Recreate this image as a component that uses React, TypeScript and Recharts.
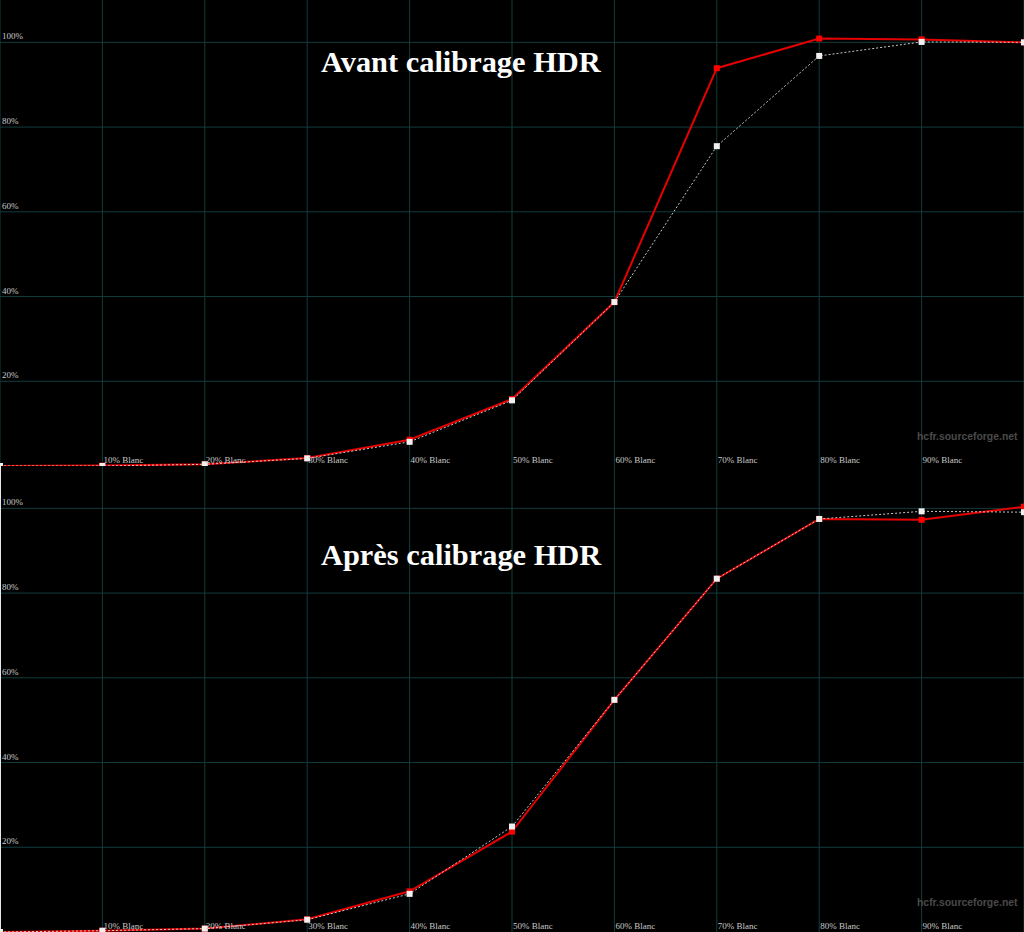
import { LineChart, Line, XAxis, YAxis, CartesianGrid } from "recharts";

// niveaux de gris mesurés (% Blanc)
const niveaux = [0, 10, 20, 30, 40, 50, 60, 70, 80, 90, 100];

// luminance relative (%)
const avantMesure = [0, 0.1, 0.4, 1.9, 6.2, 15.8, 38.7, 93.9, 100.9, 100.7, 100];
const avantCible = [0, 0, 0.4, 1.8, 5.7, 15.5, 38.7, 75.5, 96.8, 100.1, 100];
const apresMesure = [0, 0.3, 0.8, 3.0, 9.6, 23.7, 54.8, 83.4, 97.5, 97.3, 100.4];
const apresCible = [0, 0.3, 0.8, 2.9, 9.0, 24.9, 54.8, 83.4, 97.5, 99.3, 99.1];

const xTicks = [10, 20, 30, 40, 50, 60, 70, 80, 90];
const xGrid = [0, 10, 20, 30, 40, 50, 60, 70, 80, 90, 100];
const yTicks = [20, 40, 60, 80, 100];

const W = 1024;
const H = 466;
const GRID = "#123c3c";
const LABEL = "#c8c8c8";
const SERIF = "'Liberation Serif', 'Times New Roman', serif";

const build = (mesure: number[], cible: number[]) =>
  niveaux.map((x, i) => ({ x, mesure: mesure[i], cible: cible[i] }));

const XTick = (props: any) => {
  const { x, payload } = props;
  return (
    <text x={x + 1} y={H - 3} fill={LABEL} fontSize={9} fontFamily={SERIF}>
      {payload.value}% Blanc
    </text>
  );
};

const YTick = (props: any) => {
  const { y, payload } = props;
  return (
    <text x={2} y={y - 3} fill={LABEL} fontSize={9} fontFamily={SERIF}>
      {payload.value}%
    </text>
  );
};

const square = (fill: string) => (props: any) => {
  const { cx, cy, index } = props;
  if (cx == null || cy == null) return <g key={index} />;
  return <rect key={index} x={cx - 3} y={cy - 3} width={6} height={6} fill={fill} />;
};

interface GammaProps {
  mesure: number[];
  cible: number[];
  title: string;
  titleY: number;
  leftLine?: boolean;
}

function GammaChart({ mesure, cible, title, titleY, leftLine }: GammaProps) {
  const data = build(mesure, cible);
  return (
    <div style={{ position: "relative", width: W, height: H }}>
      <LineChart width={W} height={H} data={data} margin={{ top: 0, right: 0, left: 0, bottom: 0 }}>
        <CartesianGrid
          stroke={GRID}
          strokeWidth={1}
          horizontalValues={yTicks}
          verticalValues={xGrid}
        />
        <XAxis
          dataKey="x"
          type="number"
          domain={[0, 100]}
          ticks={xTicks}
          height={20}
          mirror
          axisLine={false}
          tickLine={false}
          tick={<XTick />}
          interval={0}
        />
        <YAxis
          type="number"
          domain={[0, 110]}
          ticks={yTicks}
          width={40}
          mirror
          axisLine={leftLine ? { stroke: "#e6e6e6", strokeWidth: 2 } : false}
          tickLine={false}
          tick={<YTick />}
          interval={0}
          allowDataOverflow
        />
        <Line
          dataKey="mesure"
          stroke="#e60000"
          strokeWidth={2}
          dot={square("#ff0000")}
          activeDot={false}
          isAnimationActive={false}
        />
        <Line
          dataKey="cible"
          stroke="#c8c8c8"
          strokeWidth={1}
          strokeDasharray="2 2"
          dot={square("#f0f0f0")}
          activeDot={false}
          isAnimationActive={false}
        />
      </LineChart>
      <svg
        width={W}
        height={H}
        style={{ position: "absolute", left: 0, top: 0, pointerEvents: "none" }}
      >
        <text x={321} y={titleY} fill="#ffffff" fontSize={30.4} fontWeight="bold" fontFamily={SERIF}>
          {title}
        </text>
        <text
          x={917}
          y={440}
          fill="#4a4a4a"
          fontSize={10.4}
          fontWeight="bold"
          fontFamily="'Liberation Sans', Arial, sans-serif"
        >
          hcfr.sourceforge.net
        </text>
      </svg>
    </div>
  );
}

export default function App() {
  return (
    <div style={{ position: "absolute", left: 0, top: 0, width: W, height: 932, background: "#000" }}>
      <GammaChart mesure={avantMesure} cible={avantCible} title="Avant calibrage HDR" titleY={72} />
      <GammaChart
        mesure={apresMesure}
        cible={apresCible}
        title="Après calibrage HDR"
        titleY={99}
        leftLine
      />
    </div>
  );
}
